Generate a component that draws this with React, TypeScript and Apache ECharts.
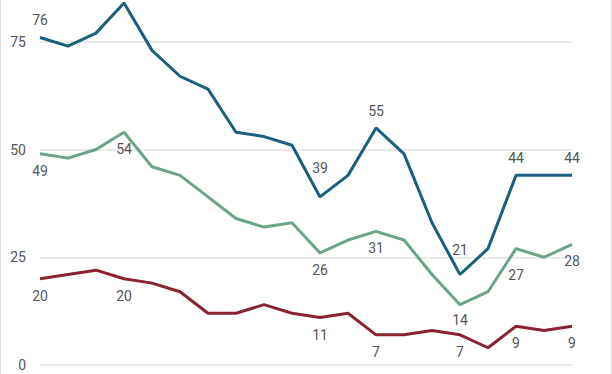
import React, { useEffect, useRef } from "react";
import * as echarts from "echarts";

const categories = Array.from({ length: 20 }, (_, i) => String(i + 1));
const blueValues = [76, 74, 77, 84, 73, 67, 64, 54, 53, 51, 39, 44, 55, 49, 33, 21, 27, 44, 44, 44];
const greenValues = [49, 48, 50, 54, 46, 44, 39, 34, 32, 33, 26, 29, 31, 29, 21, 14, 17, 27, 25, 28];
const redValues = [20, 21, 22, 20, 19, 17, 12, 12, 14, 12, 11, 12, 7, 7, 8, 7, 4, 9, 8, 9];
const labeledIdx = [0, 3, 10, 12, 15, 17, 19];
const blueLabeledIdx = [0, 10, 12, 15, 17, 19];
const yTicks = [0, 25, 50, 75];

export default function App() {
  const ref = useRef<HTMLDivElement>(null);
  useEffect(() => {
    const chart = echarts.init(ref.current!, undefined, { renderer: "svg" });
    const mk = (
      vals: number[],
      idxs: number[],
      pos: string,
      extra: Record<number, number> = {}
    ) =>
      vals.map((v, i) =>
        idxs.includes(i)
          ? {
              value: v,
              label: { show: true, position: pos, offset: [0, extra[i] || 0] },
            }
          : { value: v }
      );
    const labelStyle = {
      show: false,
      color: "#555555",
      fontSize: 14,
      fontFamily: "Roboto",
      distance: 10,
    };
    const common = {
      type: "line",
      symbol: "circle",
      symbolSize: 0,
      showSymbol: true,
      emphasis: { disabled: true },
    };
    chart.setOption({
      animation: false,
      grid: { left: 40, right: 40, top: 0, bottom: 9 },
      xAxis: {
        type: "category",
        data: categories,
        boundaryGap: false,
        show: false,
      },
      yAxis: {
        type: "value",
        min: 0,
        max: 84.69,
        interval: 25,
        axisLine: { show: false },
        axisTick: { show: false },
        axisLabel: {
          color: "#555555",
          fontSize: 14,
          fontFamily: "Roboto",
          margin: 14,
          showMaxLabel: false,
          formatter: (v: number) => (yTicks.includes(v) ? String(v) : ""),
        },
        splitLine: { showMaxLine: false, lineStyle: { color: "#e3e3e3", width: 1.5 } },
      },
      series: [
        {
          ...common,
          data: mk(blueValues, blueLabeledIdx, "top", { 10: -12, 15: -7 }),
          lineStyle: { color: "#1b5f7f", width: 3 },
          itemStyle: { color: "#1b5f7f" },
          label: labelStyle,
          z: 3,
        },
        {
          ...common,
          data: mk(greenValues, labeledIdx, "bottom", { 15: -2, 17: 9 }),
          lineStyle: { color: "#6ba486", width: 3 },
          itemStyle: { color: "#6ba486" },
          label: labelStyle,
          z: 2,
        },
        {
          ...common,
          data: mk(redValues, labeledIdx, "bottom"),
          lineStyle: { color: "#8a2331", width: 3 },
          itemStyle: { color: "#8a2331" },
          label: labelStyle,
          z: 2,
        },
      ],
      graphic: [
        { type: "line", shape: { x1: 0.5, y1: 0, x2: 0.5, y2: 374 }, style: { stroke: "#dddddd", lineWidth: 1 } },
        { type: "line", shape: { x1: 611.5, y1: 0, x2: 611.5, y2: 374 }, style: { stroke: "#dddddd", lineWidth: 1 } },
      ],
    });
    return () => chart.dispose();
  }, []);
  return <div ref={ref} style={{ width: 612, height: 374, position: "absolute", left: 0, top: 0 }} />;
}
